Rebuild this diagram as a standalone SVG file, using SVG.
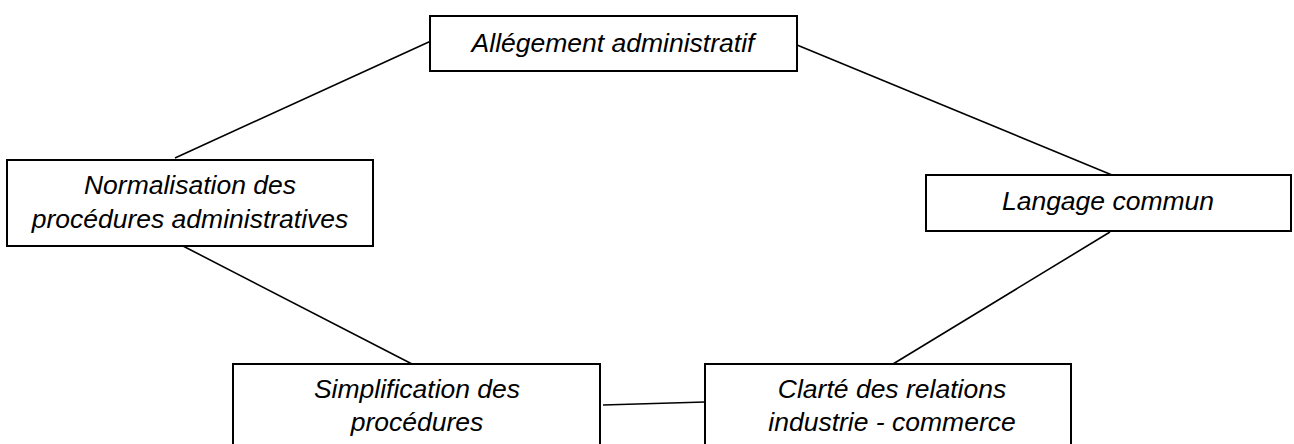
<svg xmlns="http://www.w3.org/2000/svg" width="1294" height="444" viewBox="0 0 1294 444">
<style>
.box{fill:#fff;stroke:#000;stroke-width:2}
.lbl{font-family:"Liberation Sans",Arial,sans-serif;font-style:italic;font-size:26.5px;fill:#000;text-anchor:middle}
.conn{stroke:#000;stroke-width:1.6;fill:none}
</style>
<rect width="1294" height="444" fill="#fff"/>
<g id="connectors">
<line class="conn" x1="175" y1="158" x2="431" y2="41"/>
<line class="conn" x1="797" y1="45" x2="1112" y2="175"/>
<line class="conn" x1="183" y1="246" x2="412" y2="364"/>
<line class="conn" x1="1110" y1="232" x2="893" y2="364"/>
<line class="conn" x1="603" y1="405" x2="705" y2="402"/>
</g>
<g id="n1">
<rect class="box" x="430" y="16" width="367" height="55"/>
<text class="lbl" x="613" y="52">Allégement administratif</text>
</g>
<g id="n2">
<rect class="box" x="7" y="160" width="366" height="86"/>
<text class="lbl" x="190" y="194">Normalisation des</text>
<text class="lbl" x="190" y="228">procédures administratives</text>
</g>
<g id="n3">
<rect class="box" x="926" y="175" width="365" height="56"/>
<text class="lbl" x="1108" y="210">Langage commun</text>
</g>
<g id="n4">
<rect class="box" x="233" y="364" width="367" height="100"/>
<text class="lbl" x="417" y="398">Simplification des</text>
<text class="lbl" x="417" y="431">procédures</text>
</g>
<g id="n5">
<rect class="box" x="705" y="364" width="366" height="100"/>
<text class="lbl" x="892" y="398">Clarté des relations</text>
<text class="lbl" x="892" y="431">industrie - commerce</text>
</g>
</svg>
